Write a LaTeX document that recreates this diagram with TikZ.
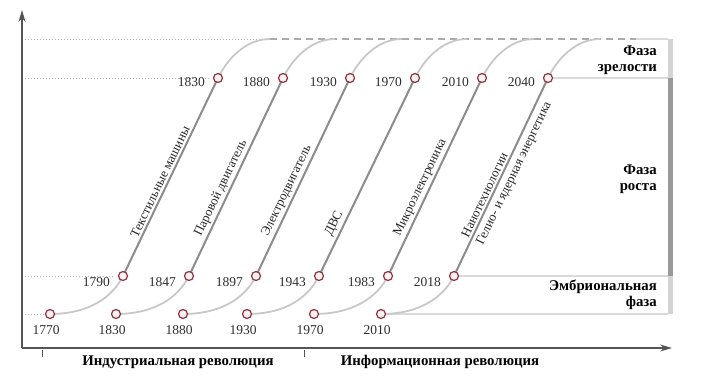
\documentclass[tikz,border=0pt]{standalone}
\usepackage{fontspec}
\setmainfont{Liberation Serif}
\usetikzlibrary{arrows.meta,backgrounds,calc}
\definecolor{maroon}{HTML}{8E3442}
\definecolor{pinkf}{HTML}{FCF1F2}
\definecolor{diagc}{HTML}{8C8C8C}
\definecolor{crvc}{HTML}{C8C8C8}
\definecolor{boxc}{HTML}{DADADA}
\definecolor{axc}{HTML}{555555}
\begin{document}
\begin{tikzpicture}[x=1pt,y=-1pt,
  dot/.style={circle,draw=maroon,fill=pinkf,line width=1.2pt,minimum size=9pt,inner sep=0pt},
  yr/.style={font=\fontsize{13.5}{15}\selectfont,text=black!82,inner sep=0pt},
  crv/.style={draw=crvc,line width=1.8pt},
  diag/.style={draw=diagc,line width=2pt},
  boxline/.style={draw=boxc,line width=1.2pt},
  dots/.style={draw=black!30,line width=0.7pt,dash pattern=on 1.2pt off 1.8pt},
  dashes/.style={draw=black!33,line width=1.3pt,dash pattern=on 7pt off 5pt},
  tech/.style={font=\fontsize{13}{14}\selectfont,text=black!85,rotate=64.3,inner sep=3pt},
  phase/.style={font=\bfseries\fontsize{14.8}{15.5}\selectfont,align=right,anchor=east,inner sep=0pt},
  rev/.style={font=\bfseries\fontsize{14.8}{16}\selectfont,inner sep=0pt},
  axis/.style={draw=axc,line width=1.1pt}]
\useasboundingbox (0,0) rectangle (705,383);

% coordinates of points
\foreach \i/\bx/\mx/\tx in {1/50/123/218,2/116/189/283,3/183/256/350,4/247/319/415,5/314/388/482,6/381/454/548}{
  \coordinate (b\i) at (\bx,314);
  \coordinate (m\i) at (\mx,276);
  \coordinate (t\i) at (\tx,78);
  \coordinate (e\i) at (\tx+52,39);
}
\coordinate (topL) at (22,39);
\coordinate (topR) at (668,39);
\coordinate (dashEnd) at (636,39);
\coordinate (lvlA) at (22,78);
\coordinate (lvlB) at (22,276);
\coordinate (lvlC) at (22,314);
\coordinate (rA) at (668,78);
\coordinate (rB) at (668,276);
\coordinate (rC) at (668,314);
\coordinate (orig) at (22,348);
\coordinate (yTip) at (22,10);
\coordinate (xTip) at (672,348);

% left dotted guides
\draw[dots] (topL) -- (266,39);
\draw[dots] (lvlA) -- ($(t1)+(-8,0)$);
\draw[dots] (lvlB) -- ($(m1)+(-8,0)$);
\draw[dots] (lvlC) -- ($(b1)+(-6,0)$);

% top dashes and box lines
\draw[dashes] (e1) -- (dashEnd);
\draw[boxline] (dashEnd) -- (topR);
\draw[boxline] (t6) -- (rA);
\draw[boxline] (m6) -- (rB);
\draw[boxline] (b6) -- (rC);

% right bar
\fill[black!17] (667.5,39) rectangle (672.5,78);
\fill[black!40] (667.5,78) rectangle (672.5,276);
\fill[black!17] (667.5,276) rectangle (672.5,314);

% curves
\foreach \i in {1,...,6}{
  \draw[crv] (b\i) .. controls +(38,0) and +(-11,22) .. (m\i);
  \draw[diag] (m\i) -- (t\i);
  \draw[crv] (t\i) .. controls +(8.7,-18) and +(-25,0) .. (e\i);
}

% dots and years
\foreach \i/\by/\my/\ty in {1/1770/1790/1830,2/1830/1847/1880,3/1880/1897/1930,4/1930/1943/1970,5/1970/1983/2010,6/2010/2018/2040}{
  \node[dot] (B\i) at (b\i) {};
  \node[dot] (M\i) at (m\i) {};
  \node[dot] (T\i) at (t\i) {};
  \node[yr,anchor=north] at ($(b\i)+(-4,11)$) {\by};
  \node[yr,anchor=east] at ($(m\i)+(-13,6)$) {\my};
  \node[yr,anchor=east] at ($(t\i)+(-13,4)$) {\ty};
}

% technology labels
\node[tech,anchor=south west] (k1) at ($(m1)!0.17!(t1)$) {Текстильные машины};
\node[tech,anchor=south west] (k2) at ($(m2)!0.17!(t2)$) {Паровой двигатель};
\node[tech,anchor=south west] (k3) at ($(m3)!0.17!(t3)$) {Электродвигатель};
\node[tech,anchor=south west] (k4) at ($(m4)!0.17!(t4)$) {ДВС};
\node[tech,anchor=south west] (k5) at ($(m5)!0.17!(t5)$) {Микроэлектроника};
\node[tech,anchor=south west] (k6) at ($(m6)!0.17!(t6)$) {Нанотехнологии};
\node[tech,anchor=north west,inner sep=4.5pt] (k7) at ($(m6)!0.16!(t6)$) {Гелио- и ядерная энергетика};

% phases
\node[phase] (p1) at (657,60) {Фаза\\зрелости};
\node[phase] (p2) at (657,179) {Фаза\\роста};
\node[phase] (p3) at (657,295) {Эмбриональная\\фаза};

% axes
\draw[axis,-{Stealth[length=12pt,width=7pt]}] (orig) -- (yTip);
\draw[axis,-{Stealth[length=12pt,width=7pt]}] (orig) -- (xTip);
\draw[axis,line width=0.8pt] (42,350) -- (42,357);
\draw[axis,line width=0.8pt] (304,350) -- (304,357);
\node[rev] (r1) at (178,362) {Индустриальная революция};
\node[rev] (r2) at (440,362) {Информационная революция};
\end{tikzpicture}
\end{document}
